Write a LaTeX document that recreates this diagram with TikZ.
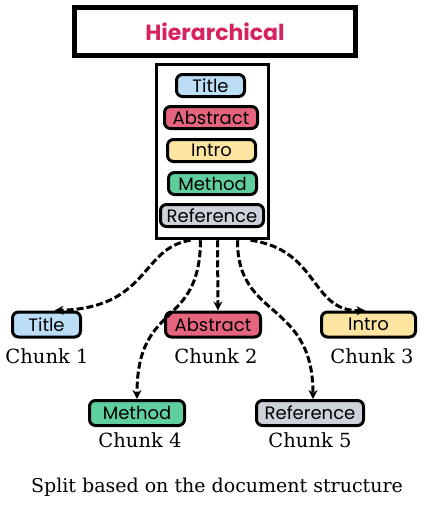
\documentclass[tikz,border=0pt]{standalone}
\usepackage{fontspec}
\setmainfont{DejaVu Serif}
\newfontfamily\handfont{Poppins}
\usetikzlibrary{arrows.meta}

\definecolor{headred}{HTML}{D6235E}
\definecolor{partblue}{HTML}{BCDDF6}
\definecolor{partred}{HTML}{E5647E}
\definecolor{partyellow}{HTML}{FBE5A0}
\definecolor{partgreen}{HTML}{5FCF9F}
\definecolor{partgray}{HTML}{CDD1DA}

\begin{document}
\begin{tikzpicture}[x=1pt,y=-1pt,
		part/.style={draw=black, line width=3pt, rounded corners=6pt, minimum height=22pt, inner sep=0pt, font=\handfont\fontsize{18}{18}\selectfont},
		chunk/.style={font=\fontsize{19.5}{19.5}\selectfont},
		split/.style={line width=3pt, dash pattern=on 7pt off 3pt, -{Stealth[length=9pt,width=9pt]}}]
		\useasboundingbox (0,0) rectangle (424,506);

		% heading and the document
		\node[draw, line width=5.5pt, minimum width=281pt, minimum height=48pt, inner sep=0pt] (head) at (215,31.5)
			{\handfont\bfseries\fontsize{22}{22}\selectfont\color{headred}Hierarchical};
		\node[draw, line width=3.5pt, minimum width=112pt, minimum height=174pt] (doc) at (212.5,151.5) {};

		\node[part, fill=partblue, minimum width=68pt] (title) at (210.5,85.5) {Title};
		\node[part, fill=partred, minimum width=93pt] (abstract) at (211,117.5) {Abstract};
		\node[part, fill=partyellow, minimum width=88pt] (intro) at (211.5,150.5) {Intro};
		\node[part, fill=partgreen, minimum width=88pt] (method) at (212.5,183.5) {Method};
		\node[part, fill=partgray, minimum width=103pt] (reference) at (212,215.5) {Reference};

		% the chunks
		\node[part, fill=partblue, minimum width=68pt, minimum height=25pt] (chunkA) at (46.5,324.5) {Title};
		\node[part, fill=partred, minimum width=95pt, minimum height=25pt] (chunkB) at (213,324.5) {Abstract};
		\node[part, fill=partyellow, minimum width=94pt, minimum height=25pt] (chunkC) at (368.5,324.5) {Intro};
		\node[part, fill=partgreen, minimum width=95pt, minimum height=25pt] (chunkD) at (137,413) {Method};
		\node[part, fill=partgray, minimum width=107pt, minimum height=25pt] (chunkE) at (310,413) {Reference};

		\node[chunk] (labelA) at (47,356) {Chunk 1};
		\node[chunk] (labelB) at (216,356) {Chunk 2};
		\node[chunk] (labelC) at (372,356) {Chunk 3};
		\node[chunk] (labelD) at (140,440) {Chunk 4};
		\node[chunk] (labelE) at (310,440) {Chunk 5};

		\draw[split] ([xshift=-22pt]doc.south) .. controls (140,248) and (150,308) .. ([xshift=8pt]chunkA.north);
		\draw[split] ([xshift=-12pt]doc.south) .. controls (200,330) and (137,300) .. (chunkD.north);
		\draw[split] ([xshift=5pt]doc.south) -- ([xshift=5pt]chunkB.north);
		\draw[split] ([xshift=25pt]doc.south) .. controls (237,320) and (313,300) .. ([xshift=3pt]chunkE.north);
		\draw[split] ([xshift=38pt]doc.south) .. controls (320,250) and (310,312) .. ([xshift=-3pt]chunkC.north);

		\node[font=\fontsize{19}{19}\selectfont] (caption) at (217,487) {Split based on the document structure};
	\end{tikzpicture}
\end{document}
